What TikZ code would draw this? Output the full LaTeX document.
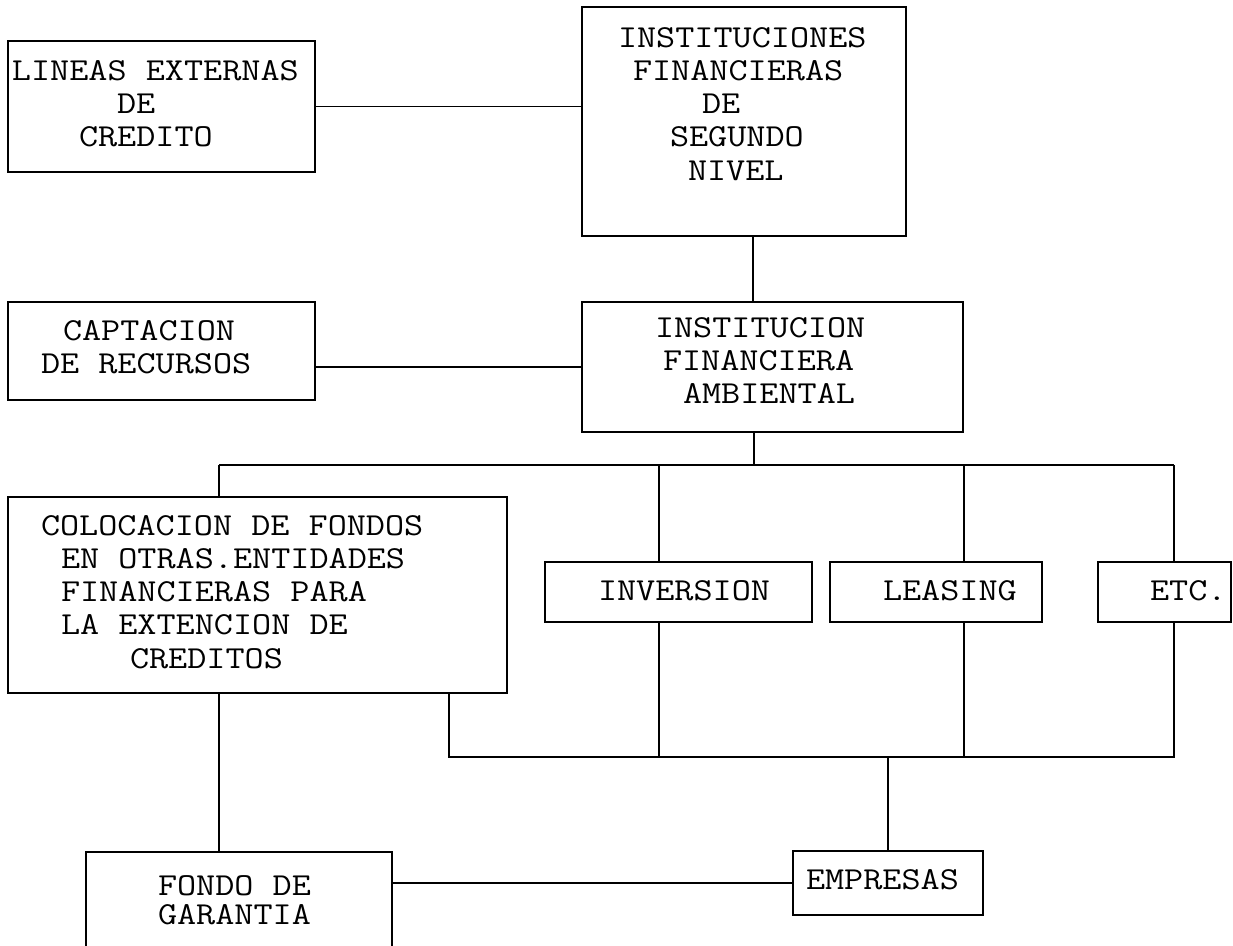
\documentclass[tikz,border=0pt]{standalone}
\usepackage{graphicx}
\tikzset{
  box/.style={draw, line width=1.7pt, inner sep=0pt, outer sep=0pt, anchor=north west},
  lbl/.style={inner sep=0pt, outer sep=0pt, anchor=base west, font=\fontsize{32}{33.3}\selectfont\ttfamily},
  conn/.style={line width=1.7pt}
}
\newcommand\tline[2]{\hspace*{#1pt}\scalebox{1.16}[1]{#2}}
\begin{document}
\begin{tikzpicture}[x=1pt, y=-1pt]
\useasboundingbox (0,0) rectangle (1233,945);
\clip (0,0) rectangle (1233,945);
% boxes
\node[box, minimum width=307pt, minimum height=131pt] (lineas) at (8,41) {};
\node[box, minimum width=324pt, minimum height=229pt] (inst1) at (582,7) {};
\node[box, minimum width=307pt, minimum height=98pt] (capt) at (8,302) {};
\node[box, minimum width=381pt, minimum height=130pt] (inst2) at (582,302) {};
\node[box, minimum width=499pt, minimum height=196pt] (coloc) at (8,497) {};
\node[box, minimum width=267pt, minimum height=60pt] (inver) at (545,562) {};
\node[box, minimum width=212pt, minimum height=60pt] (leas) at (830,562) {};
\node[box, minimum width=133pt, minimum height=60pt] (etc) at (1098,562) {};
\node[box, minimum width=190pt, minimum height=64pt] (empr) at (793,851) {};
\node[box, minimum width=306pt, minimum height=120pt] (fondo) at (86,852) {};
% texts
\node[lbl] (tlineas) at (12,80) {\begin{tabular}[t]{@{}l@{}}\tline{0}{LINEAS EXTERNAS}\\ \tline{105}{DE}\\ \tline{67}{CREDITO}\end{tabular}};
\node[lbl] (tinst1) at (618,47) {\begin{tabular}[t]{@{}l@{}}\tline{0}{INSTITUCIONES}\\ \tline{15}{FINANCIERAS}\\ \tline{84}{DE}\\ \tline{52}{SEGUNDO}\\ \tline{70}{NIVEL}\end{tabular}};
\node[lbl] (tcapt) at (41,340) {\begin{tabular}[t]{@{}l@{}}\tline{22}{CAPTACION}\\ \tline{0}{DE RECURSOS}\end{tabular}};
\node[lbl] (tinst2) at (655,337) {\begin{tabular}[t]{@{}l@{}}\tline{0}{INSTITUCION}\\ \tline{8}{FINANCIERA}\\ \tline{28}{AMBIENTAL}\end{tabular}};
\node[lbl] (tcoloc) at (41,535) {\begin{tabular}[t]{@{}l@{}}\tline{0}{COLOCACION DE FONDOS}\\ \tline{20}{EN OTRAS.ENTIDADES}\\ \tline{20}{FINANCIERAS PARA}\\ \tline{20}{LA EXTENCION DE}\\ \tline{89}{CREDITOS}\end{tabular}};
\node[lbl] (tinver) at (598,600) {\tline{0}{INVERSION}};
\node[lbl] (tleas) at (883,600) {\tline{0}{LEASING}};
\node[lbl] (tetc) at (1150,600) {\tline{0}{ETC.}};
\node[lbl] (tempr) at (806,889) {\tline{0}{EMPRESAS}};
\node[lbl] (tfondo) at (158,895) {\begin{tabular}[t]{@{}l@{}}\tline{0}{FONDO DE}\\[-4pt] \tline{0}{GARANTIA}\end{tabular}};
% connector coordinates
\coordinate (c1) at (753,0);
\coordinate (xm) at (754,465);
\coordinate (xa) at (219,465);
\coordinate (xb) at (659,465);
\coordinate (xc) at (964,465);
\coordinate (xd) at (1174,465);
\coordinate (ya) at (449,757);
\coordinate (yb) at (659,757);
\coordinate (yc) at (964,757);
\coordinate (yd) at (1174,757);
\coordinate (ye) at (888,757);
% connectors
\draw[conn] (lineas.east) -- (lineas.east -| inst1.west);
\draw[conn] (inst1.south -| c1) -- (inst2.north -| c1);
\draw[conn] (inst2.west -| capt.east) -- (inst2.west);
\draw[conn] (inst2.south -| xm) -- (xm);
\draw[conn] (xa) -- (xd);
\draw[conn] (xa) -- (xa |- coloc.north);
\draw[conn] (xb) -- (xb |- inver.north);
\draw[conn] (xc) -- (xc |- leas.north);
\draw[conn] (xd) -- (xd |- etc.north);
\draw[conn] (ya |- coloc.south) -- (ya) -- (yd) -- (yd |- etc.south);
\draw[conn] (yb |- inver.south) -- (yb);
\draw[conn] (yc |- leas.south) -- (yc);
\draw[conn] (ye) -- (empr.north);
\draw[conn] (coloc.south -| xa) -- (fondo.north -| xa);
\draw[conn] (fondo.east |- empr.west) -- (empr.west);
\end{tikzpicture}
\end{document}
